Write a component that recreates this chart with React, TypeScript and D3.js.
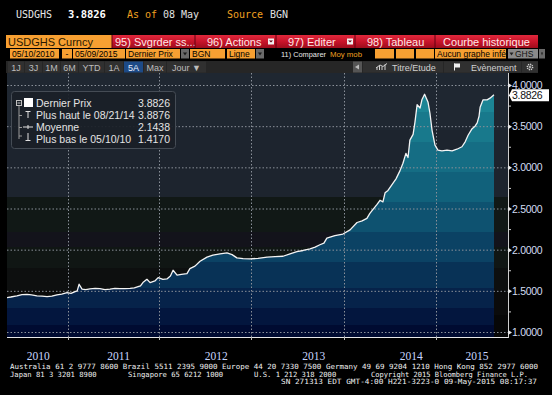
import React from "react";
import * as d3 from "d3";

const priceDates = ["2010-05-10","2010-05-24","2010-06-16","2010-07-05","2010-07-24","2010-08-10","2010-08-30","2010-09-18","2010-10-07","2010-10-25","2010-11-13","2010-12-01","2010-12-21","2011-01-05","2011-01-20","2011-01-28","2011-02-04","2011-02-15","2011-03-01","2011-03-17","2011-04-05","2011-04-23","2011-05-12","2011-05-31","2011-06-18","2011-07-07","2011-07-25","2011-08-14","2011-08-30","2011-09-13","2011-09-22","2011-10-01","2011-10-16","2011-10-28","2011-11-15","2011-11-27","2011-12-15","2011-12-30","2012-01-12","2012-01-22","2012-02-06","2012-02-22","2012-03-14","2012-03-25","2012-04-13","2012-05-02","2012-05-28","2012-06-19","2012-07-16","2012-08-11","2012-08-30","2012-09-17","2012-10-10","2012-11-05","2012-12-05","2013-01-08","2013-02-07","2013-03-09","2013-04-04","2013-04-30","2013-05-23","2013-06-18","2013-07-07","2013-07-25","2013-08-09","2013-08-20","2013-09-19","2013-10-19","2013-11-15","2013-12-11","2013-12-30","2014-01-17","2014-01-28","2014-02-09","2014-02-24","2014-03-07","2014-03-18","2014-03-26","2014-04-06","2014-04-21","2014-05-06","2014-05-21","2014-06-01","2014-06-12","2014-06-20","2014-06-27","2014-07-09","2014-07-16","2014-07-24","2014-08-04","2014-08-11","2014-08-21","2014-09-03","2014-09-10","2014-09-18","2014-09-29","2014-10-10","2014-10-25","2014-11-13","2014-12-02","2014-12-20","2015-01-08","2015-01-20","2015-01-31","2015-02-15","2015-02-26","2015-03-06","2015-03-13","2015-03-17","2015-03-28","2015-04-12","2015-04-23","2015-05-08"];
const priceValues = [1.417,1.425,1.44,1.455,1.458,1.45,1.44,1.435,1.43,1.435,1.45,1.46,1.477,1.47,1.49,1.5,1.58,1.52,1.515,1.525,1.53,1.526,1.515,1.52,1.53,1.526,1.528,1.53,1.535,1.55,1.56,1.6,1.64,1.6,1.62,1.66,1.64,1.645,1.68,1.75,1.69,1.7,1.71,1.77,1.8,1.86,1.91,1.935,1.95,1.96,1.94,1.9,1.89,1.887,1.895,1.91,1.915,1.92,1.95,1.975,1.99,2.01,2.03,2.06,2.08,2.14,2.17,2.19,2.24,2.33,2.35,2.38,2.44,2.49,2.55,2.6,2.58,2.69,2.72,2.79,2.86,2.96,3.05,3.17,3.12,3.33,3.4,3.55,3.76,3.72,3.82,3.8876,3.79,3.66,3.45,3.27,3.21,3.2,3.21,3.2,3.22,3.25,3.31,3.39,3.47,3.5,3.54,3.62,3.73,3.82,3.82,3.84,3.8826];

const gridDates = ["2010-12-24","2011-11-30","2012-11-09","2013-10-23","2014-10-03"];
const yearLabels = ["2010","2011","2012","2013","2014","2015"];
const yMajorTicks = [1, 1.5, 2, 2.5, 3, 3.5, 4];
const yMinorTicks = [1.25, 1.75, 2.25, 2.75, 3.25, 3.75];
const lastValue = 3.8826;

const legendLabels = ["Dernier Prix", "Plus haut le 08/21/14", "Moyenne", "Plus bas le 05/10/10"];
const legendValues = ["3.8826", "3.8876", "2.1438", "1.4170"];

const headerTicker = "USDGHS";
const headerPrice = "3.8826";
const headerDate = "08 May";
const headerSource = "BGN";

const redButtonLabels = ["95) Svgrder ss...", "96) Actions", "97) Editer", "98) Tableau", "Courbe historique"];
const periodLabels = ["1J", "3J", "1M", "6M", "YTD", "1A", "5A", "Max", "Jour \u25BC"];

const footerLine1 = "Australia 61 2 9777 8600 Brazil 5511 2395 9000 Europe 44 20 7330 7500 Germany 49 69 9204 1210 Hong Kong 852 2977 6000";
const footerLine2 = ["Japan 81 3 3201 8900", "Singapore 65 6212 1000", "U.S. 1 212 318 2000", "Copyright 2015 Bloomberg Finance L.P."];
const footerLine3 = "SN 271313 EDT  GMT-4:00 H221-3223-0 09-May-2015 08:17:37";

export default function App() {
  const W = 552, H = 395;
  const plotL = 7, plotR = 508, plotT = 73, plotB = 337;
  const parse = d3.timeParse("%Y-%m-%d");
  const data = priceDates.map((d, i) => ({ date: parse(d) as Date, value: priceValues[i] }));
  const x = d3.scaleTime().domain([parse("2010-05-10") as Date, parse("2015-05-08") as Date]).range([7, 494]);
  const y = d3.scaleLinear().domain([1, 4]).range([332, 85]);

  const line = d3.line<any>().x(d => x(d.date)).y(d => y(d.value));
  const area = d3.area<any>().x(d => x(d.date)).y0(plotB).y1(d => y(d.value));

  const fillBands = [
    [73, "#1c8595"], [112, "#18798c"], [142, "#156d84"], [172, "#11617b"], [202, "#0e5270"],
    [232, "#0b4264"], [262, "#083256"], [288, "#06234a"], [308, "#03163e"], [325, "#000b31"], [337, "#000b31"],
  ] as [number, string][];
  const bgBands = [
    [73, "#1f2731"], [130, "#1d242e"], [197, "#111816"], [232, "#13131b"], [247, "#101614"],
    [268, "#0d0f0f"], [290, "#0b0b0b"], [315, "#070707"], [337, "#070707"],
  ] as [number, string][];

  const bandStops = (bands: [number, string][]) => {
    const out: any[] = [];
    for (let i = 0; i < bands.length - 1; i++) {
      const o1 = (bands[i][0] - plotT) / (plotB - plotT);
      const o2 = (bands[i + 1][0] - plotT) / (plotB - plotT);
      out.push(<stop key={i + "a"} offset={o1} stopColor={bands[i][1]} />);
      out.push(<stop key={i + "b"} offset={o2} stopColor={bands[i][1]} />);
    }
    return out;
  };

  const yearMid = (yr: number) => {
    const [d0, d1] = x.domain();
    const a = new Date(Math.max(+d0, +new Date(yr, 0, 1)));
    const b = new Date(Math.min(+d1, +new Date(yr, 11, 31)));
    return x(new Date((+a + +b) / 2));
  };

  const uiFont = "'Liberation Sans', Arial, sans-serif";
  const monoFont = "'DejaVu Sans Mono', monospace";

  const redX = [112, 195, 276, 355, 435, 538];
  const periodX = [7, 24, 42, 60, 78, 104, 123, 143, 166, 206];

  const legendY = [107, 118.5, 130.5, 142.5];

  return (
    <div style={{ position: "fixed", left: 0, top: 0, width: W, height: H, background: "#000" }}>
      <svg width={W} height={H} style={{ display: "block" }}>
        <defs>
          <linearGradient id="fillG" gradientUnits="userSpaceOnUse" x1="0" y1={plotT} x2="0" y2={plotB}>
            {bandStops(fillBands)}
          </linearGradient>
          <linearGradient id="bgG" gradientUnits="userSpaceOnUse" x1="0" y1={plotT} x2="0" y2={plotB}>
            {bandStops(bgBands)}
          </linearGradient>
          <linearGradient id="redG" x1="0" y1="0" x2="0" y2="1">
            <stop offset="0" stopColor="#e0283c" />
            <stop offset="0.5" stopColor="#c8142a" />
            <stop offset="1" stopColor="#9c0c1c" />
          </linearGradient>
          <clipPath id="plotClip"><rect x={plotL} y={plotT} width={plotR - plotL} height={plotB - plotT} /></clipPath>
        </defs>
        <rect x={0} y={0} width={W} height={H} fill="#000" />

        {/* header */}
        <text x={16} y={18} fontFamily={monoFont} fontSize={10} fill="#e8e8e8">{headerTicker}</text>
        <text x={68} y={18} fontFamily={monoFont} fontSize={10.5} fontWeight="bold" fill="#ffffff">{headerPrice}</text>
        <text x={127} y={18} fontFamily={monoFont} fontSize={10} fill="#f0a020">As of</text>
        <text x={163} y={18} fontFamily={monoFont} fontSize={10} fill="#e0e0e0">{headerDate}</text>
        <text x={227} y={18} fontFamily={monoFont} fontSize={10} fill="#f0a020">Source</text>
        <text x={270} y={18} fontFamily={monoFont} fontSize={10} fill="#e0e0e0">{headerSource}</text>

        {/* row 1 */}
        <rect x={6} y={35} width={106} height={13} fill="#f7a032" />
        <text x={8} y={45.5} fontFamily={uiFont} fontSize={11} fill="#2a1800">USDGHS Curncy</text>
        {redButtonLabels.map((lb, i) => (
          <g key={lb}>
            <rect x={redX[i]} y={35} width={redX[i + 1] - redX[i]} height={13} fill="url(#redG)" />
            <line x1={redX[i]} x2={redX[i]} y1={35} y2={48} stroke="#600010" />
            <text x={i === 4 ? (redX[i] + redX[i + 1]) / 2 : redX[i] + (i === 0 ? 3 : 12)} y={45.5} textAnchor={i === 4 ? "middle" : "start"}
              fontFamily={uiFont} fontSize={11} fill="#ffe8e8">{lb}</text>
            {(i === 1 || i === 2) && (
              <g>
                <rect x={redX[i + 1] - 8} y={38.5} width={6} height={6} fill="#f0f0f0" />
                <path d={`M${redX[i + 1] - 7},${40.5}L${redX[i + 1] - 3},${40.5}L${redX[i + 1] - 5},${42.5}Z`} fill="#600010" />
              </g>
            )}
          </g>
        ))}

        {/* row 2 */}
        {[[10, 59, "05/10/2010"], [62, 72, "-"], [73, 125, "05/09/2015"], [126, 180, "Dernier Prix"], [190, 225, "BGN"], [227, 255, "Ligne"], [375, 394, ""], [396, 414, ""], [416, 434, ""], [435, 506, "Aucun graphe infé"]].map(([a, b, t], i) => (
          <g key={"r2" + i}>
            <rect x={a as number} y={49} width={(b as number) - (a as number)} height={9.5} fill="#f7a032" />
            <text x={(a as number) + ((t as string).length < 2 ? ((b as number) - (a as number)) / 2 - 1.5 : 2)} y={56.6} fontFamily={uiFont} fontSize={8.5} fill="#000">{t as string}</text>
          </g>
        ))}
        {[[181, 189], [256, 264], [539, 545]].map(([a, b], i) => (
          <g key={"dd" + i}>
            <rect x={a} y={49} width={b - a} height={9.5} fill="#6a6a6a" />
            <path d={`M${a + 2},52.5L${b - 2},52.5L${(a + b) / 2},55.5Z`} fill="#1a1a1a" />
          </g>
        ))}
        <rect x={508} y={49} width={30} height={9.5} fill="#8a8a8a" />
        <path d="M509.5,52.5L513.5,52.5L511.5,55.5Z" fill="#222" />
        <text x={515} y={56.6} fontFamily={uiFont} fontSize={8.5} fill="#111">GHS</text>
        <text x={281} y={56.6} fontFamily={uiFont} fontSize={8} fill="#e8e8e8" textLength={45} lengthAdjust="spacingAndGlyphs">11) Comparer</text>
        <text x={330} y={56.6} fontFamily={uiFont} fontSize={8} fill="#f0a020" textLength={32} lengthAdjust="spacingAndGlyphs">Moy mob</text>

        {/* row 3 */}
        <rect x={6} y={61} width={532} height={12} fill="#262626" />
        {periodLabels.map((lb, i) => (
          <g key={lb}>
            <rect x={periodX[i] + 1} y={61.5} width={periodX[i + 1] - periodX[i] - 1} height={11} fill={lb === "5A" ? "#1d4a86" : "#303030"} />
            <text x={(periodX[i] + periodX[i + 1]) / 2 + 0.5} y={70.5} textAnchor="middle" fontFamily={uiFont} fontSize={9} fill={lb === "5A" ? "#e8f0ff" : "#bdbdbd"}>{lb}</text>
          </g>
        ))}
        <rect x={353} y={61.5} width={9} height={11} fill="#555" />
        <path d="M359,64.5L355,67L359,69.5Z" fill="#bbb" />
        <rect x={363} y={61.5} width={80} height={11} fill="#303030" />
        <path d="M377,70L377,67M379.5,70L379.5,65.5M382,70L382,66.5M385,70L385,64.5M376,68L380,65L383,66.5L387,63.5" stroke="#d0d0d0" strokeWidth={1} fill="none" />
        <text x={392} y={70.5} fontFamily={uiFont} fontSize={9} fill="#d0d0d0">Titre/Etude</text>
        <rect x={444} y={61.5} width={77} height={11} fill="#303030" />
        <rect x={454} y={63.5} width={6} height={4} fill="#f0f0f0" />
        <line x1={454.5} x2={454.5} y1={63.5} y2={70.5} stroke="#f0f0f0" />
        <text x={471} y={70.5} fontFamily={uiFont} fontSize={9} fill="#d0d0d0">Evènement</text>
        <rect x={522} y={61.5} width={16} height={11} fill="#303030" />
        <circle cx={530} cy={67} r={2.6} fill="none" stroke="#cfcfcf" strokeWidth={1.6} strokeDasharray="1.2 0.8" />
        <circle cx={530} cy={67} r={1} fill="#cfcfcf" />

        {/* plot */}
        <rect x={plotL} y={plotT} width={plotR - plotL} height={plotB - plotT} fill="url(#bgG)" />
        <g clipPath="url(#plotClip)">
          <path d={area(data) || ""} fill="url(#fillG)" />
          {yMajorTicks.map(t => (
            <line key={"h" + t} x1={plotL} x2={plotR} y1={y(t) + 0.5} y2={y(t) + 0.5} stroke="#8a9099" strokeWidth={1} strokeDasharray="1.5 2" />
          ))}
          {gridDates.map(g => {
            const gx = Math.round(x(parse(g) as Date)) + 0.5;
            return <line key={g} x1={gx} x2={gx} y1={plotT} y2={plotB} stroke="#8a9099" strokeWidth={1} strokeDasharray="1.5 2" />;
          })}
          <path d={line(data) || ""} fill="none" stroke="#f4f4f4" strokeWidth={1.3} strokeLinejoin="round" />
        </g>

        {/* axes */}
        <line x1={plotL} x2={plotR} y1={plotB + 0.5} y2={plotB + 0.5} stroke="#e8e8e8" strokeWidth={1} />
        {gridDates.map(g => {
          const gx = Math.round(x(parse(g) as Date)) + 0.5;
          return <line key={"t" + g} x1={gx} x2={gx} y1={plotB} y2={plotB + 3} stroke="#bbbbbb" />;
        })}
        <line x1={plotR + 0.5} x2={plotR + 0.5} y1={plotT} y2={plotB + 1} stroke="#cfcfcf" strokeWidth={1} />
        {yMinorTicks.map(t => (
          <line key={"mt" + t} x1={plotR} x2={plotR + 3} y1={y(t) + 0.5} y2={y(t) + 0.5} stroke="#cfcfcf" />
        ))}
        {yMajorTicks.map(t => (
          <g key={"yt" + t}>
            <path d={`M${plotR},${y(t) - 2}L${plotR + 4},${y(t) + 0.5}L${plotR},${y(t) + 3}Z`} fill="#e8e8e8" />
            <text x={512} y={y(t) + 4} fontFamily={uiFont} fontSize={10.5} fill="#d2dcf2" letterSpacing={-0.3}>{d3.format(".4f")(t)}</text>
          </g>
        ))}
        {/* last value label */}
        <path d={`M${plotR + 1},${y(lastValue) + 0.5}L${plotR + 4},${y(lastValue) - 5.5}L549,${y(lastValue) - 5.5}L549,${y(lastValue) + 6.5}L${plotR + 4},${y(lastValue) + 6.5}Z`} fill="#ffffff" />
        <text x={512} y={y(lastValue) + 4.5} fontFamily={uiFont} fontSize={10.5} fill="#101010" letterSpacing={-0.3}>{d3.format(".4f")(lastValue)}</text>

        {/* year labels */}
        {yearLabels.map(yl => (
          <text key={yl} x={yearMid(+yl)} y={359.5} textAnchor="middle" fontFamily="'Liberation Serif', serif" fontSize={11.5} fill="#c9d6ff">{yl}</text>
        ))}

        {/* legend */}
        <rect x={11.5} y={91.5} width={164} height={57} rx={3} fill="#1a2027" fillOpacity={0.92} stroke="#454c55" />
        <rect x={16.5} y={100.5} width={5} height={5} fill="none" stroke="#bfbfbf" />
        <line x1={17.5} x2={20.5} y1={103} y2={103} stroke="#bfbfbf" />
        <line x1={19} x2={19} y1={106} y2={139} stroke="#9a9a9a" />
        {[118.5, 130.5, 139].map((ly, i) => (
          <line key={"br" + i} x1={19} x2={22} y1={ly - 3} y2={ly - 3} stroke="#9a9a9a" />
        ))}
        <rect x={24} y={98} width={9} height={9} fill="#ffffff" />
        <path d="M25.5,111.5L30.5,111.5M28,111.5L28,118" stroke="#e0e0e0" strokeWidth={1} />
        <path d="M23,127L33,127M28,125L28,129" stroke="#e0e0e0" strokeWidth={1} />
        <path d="M28,133L28,140.5M25.5,140.5L30.5,140.5" stroke="#e0e0e0" strokeWidth={1} />
        {legendLabels.map((lb, i) => (
          <g key={lb}>
            <text x={36} y={legendY[i]} fontFamily={uiFont} fontSize={10.5} fill="#e4e4e4">{lb}</text>
            <text x={170} y={legendY[i]} textAnchor="end" fontFamily={uiFont} fontSize={10.5} fill="#e4e4e4">{legendValues[i]}</text>
          </g>
        ))}

        {/* footer */}
        <text x={10} y={368.5} fontFamily={monoFont} fontSize={7.2} fill="#f0f0f0" textLength={528} lengthAdjust="spacingAndGlyphs">{footerLine1}</text>
        <text x={10} y={376.5} fontFamily={monoFont} fontSize={7.2} fill="#f0f0f0">{footerLine2[0]}</text>
        <text x={128} y={376.5} fontFamily={monoFont} fontSize={7.2} fill="#f0f0f0">{footerLine2[1]}</text>
        <text x={254} y={376.5} fontFamily={monoFont} fontSize={7.2} fill="#f0f0f0">{footerLine2[2]}</text>
        <text x={371} y={376.5} fontFamily={monoFont} fontSize={7.2} fill="#f0f0f0" textLength={157} lengthAdjust="spacingAndGlyphs">{footerLine2[3]}</text>
        <text x={281} y={384} fontFamily={monoFont} fontSize={7.2} fill="#f0f0f0" textLength={256} lengthAdjust="spacingAndGlyphs">{footerLine3}</text>
      </svg>
    </div>
  );
}
